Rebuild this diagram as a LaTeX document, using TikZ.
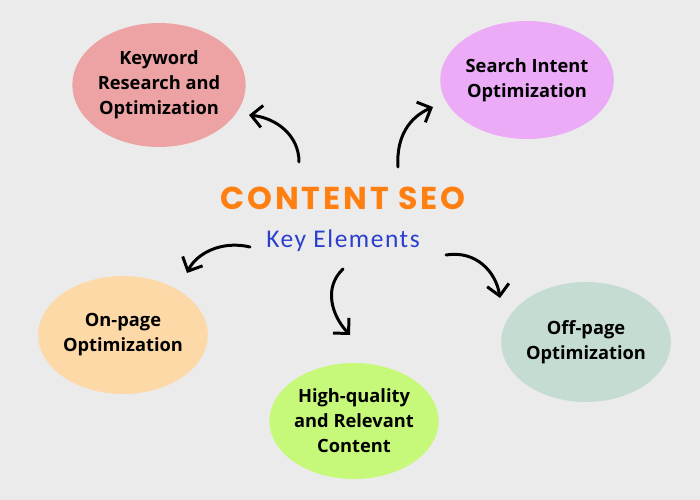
\documentclass[tikz,border=0pt]{standalone}
\usepackage{fontspec}
\setmainfont{Open Sans}
\newfontfamily\titlefont[LetterSpace=9]{Poppins}
\newfontfamily\handfont[LetterSpace=6]{Carlito}
\usetikzlibrary{shapes.geometric, arrows.meta, positioning}
\definecolor{nen}{HTML}{EBEBEB}
\definecolor{hong}{HTML}{EDA3A3}
\definecolor{tim}{HTML}{EBABF7}
\definecolor{cam}{HTML}{FDD9A8}
\definecolor{chanh}{HTML}{C6F97A}
\definecolor{xam}{HTML}{C4DCD1}
\definecolor{cammanh}{HTML}{FF7F11}
\definecolor{xanh}{HTML}{2B3FCF}
\tikzset{
  oval/.style={ellipse, inner sep=0pt, align=center, font=\bfseries\fontsize{10.4}{14.2}\selectfont},
  cong/.style={line width=1.7pt, line cap=round, -{Straight Barb[length=2.2mm,width=4.4mm]}}
}

\begin{document}
\begin{tikzpicture}[x=0.02cm, y=-0.02cm]

            % Nền
            \fill[nen] (0,0) rectangle (700,500);
            \useasboundingbox (0,0) rectangle (700,500);

            % Các elip
            \node[oval, fill=hong, minimum width=3.36cm, minimum height=2.48cm] (keyword) at (159,85) {Keyword\\Research and\\Optimization};
            \node[oval, fill=tim, minimum width=3.16cm, minimum height=2.36cm] (intent) at (527,80) {Search Intent\\Optimization};
            \node[oval, fill=cam, minimum width=3.16cm, minimum height=2.36cm] (onpage) at (123,335) {On-page\\Optimization};
            \node[oval, fill=chanh, minimum width=3.28cm, minimum height=2.32cm] (quality) at (354,421) {High-quality\\and Relevant\\Content};
            \node[oval, fill=xam, minimum width=3.16cm, minimum height=2.40cm] (offpage) at (586,342) {Off-page\\Optimization};

            % Tiêu đề
            \node[text=cammanh, font=\titlefont\bfseries\fontsize{18}{20}\selectfont] (title) at (343,198) {CONTENT SEO};
            \node[text=xanh, font=\handfont\fontsize{14.5}{16}\selectfont] (sub) at (343,241) {Key Elements};

            % Điểm đầu, điểm cuối của mũi tên
            \coordinate (k1) at (299,162); \coordinate (k2) at (249,115);
            \coordinate (s1) at (398,167); \coordinate (s2) at (433,107);
            \coordinate (o1) at (250,247); \coordinate (o2) at (187,273);
            \coordinate (q1) at (343,269); \coordinate (q2) at (350,335);
            \coordinate (f1) at (446,255); \coordinate (f2) at (500,298);

            % Mũi tên cong
            \draw[cong] (k1) .. controls (299,135) and (276,118) .. (k2);
            \draw[cong] (s1) .. controls (396,136) and (410,117) .. (s2);
            \draw[cong] (o1) .. controls (221,240) and (196,254) .. (o2);
            \draw[cong] (q1) .. controls (323,288) and (332,316) .. (q2);
            \draw[cong] (f1) .. controls (476,250) and (496,272) .. (f2);

\end{tikzpicture}
\end{document}
